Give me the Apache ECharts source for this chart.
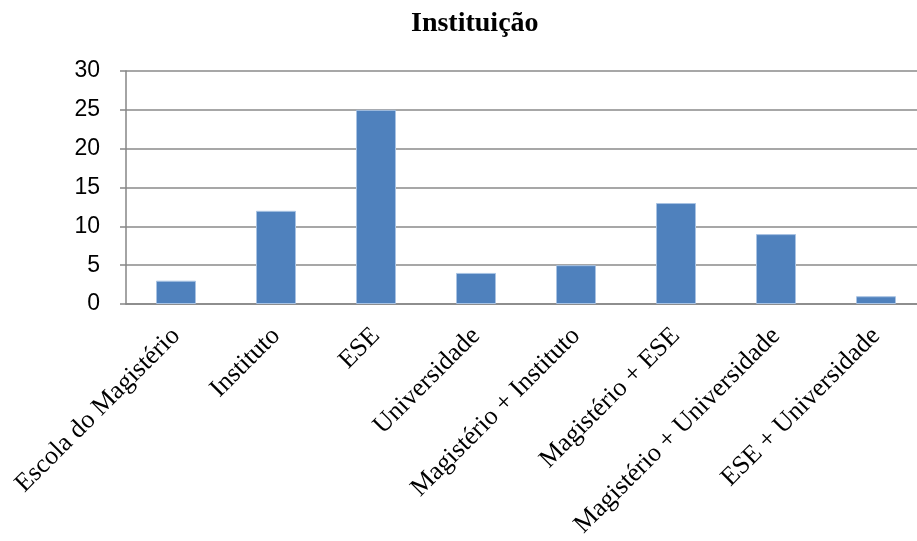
<!DOCTYPE html>
<html>
<head>
<meta charset="utf-8">
<script src="https://cdn.jsdelivr.net/npm/echarts@6/dist/echarts.min.js"></script>
<style>html,body{margin:0;padding:0;background:#fff}#c{width:917px;height:541px}</style>
</head>
<body>
<div id="c"></div>
<script>
const categories = ["Escola do Magistério", "Instituto", "ESE", "Universidade", "Magistério + Instituto", "Magistério + ESE", "Magistério + Universidade", "ESE + Universidade"];
const values = [3, 12, 25, 4, 5, 13, 9, 1];
const titleText = "Instituição";

const chart = echarts.init(document.getElementById('c'));
chart.setOption({
  animation: false,
  backgroundColor: '#fff',
  title: {
    text: titleText,
    left: 406, top: 5,
    textStyle: { fontFamily: 'Liberation Serif', fontWeight: 'bold', fontSize: 28, color: '#000' }
  },
  grid: { left: 126, top: 71, width: 800, bottom: 237, outerBoundsMode: 'none', containLabel: false },
  xAxis: {
    type: 'category',
    data: categories,
    axisLine: { lineStyle: { color: '#868686', width: 1.5 } },
    axisTick: { length: 6, lineStyle: { color: '#868686', width: 1.5 } },
    axisLabel: { rotate: 45, margin: 28, interval: 0, fontFamily: 'Liberation Serif', fontSize: 26, color: '#000' }
  },
  yAxis: {
    type: 'value',
    min: 0, max: 30, interval: 5,
    axisLine: { show: true, lineStyle: { color: '#868686', width: 1.5 } },
    axisTick: { show: true, length: 6, lineStyle: { color: '#868686', width: 1.5 } },
    splitLine: { lineStyle: { color: '#8a8a8a', width: 1.5 } },
    axisLabel: { margin: 26, fontFamily: 'Liberation Sans', fontSize: 23, color: '#000' }
  },
  series: [{
    type: 'bar',
    data: values,
    barWidth: 40,
    itemStyle: { color: '#4F81BD', borderColor: '#A9C3E3', borderWidth: 1 }
  }]
});
</script>
</body>
</html>
